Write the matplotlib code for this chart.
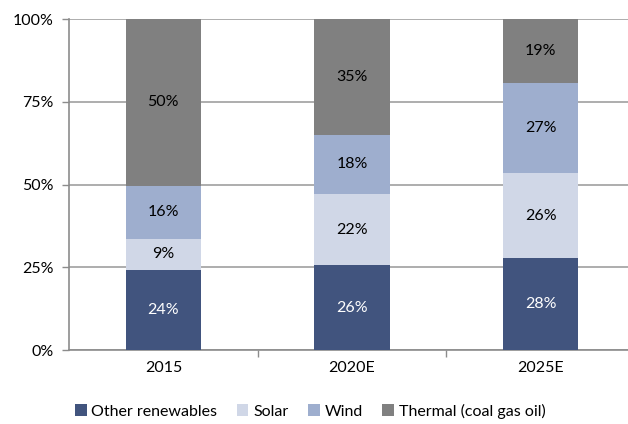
import matplotlib
matplotlib.use('Agg')
import matplotlib.pyplot as plt
import numpy as np

# values (percent of total)
years = ['2015', '2020E', '2025E']
other_renewables = [24.2, 25.6, 27.7]
solar = [9.4, 21.6, 25.9]
wind = [16.1, 17.8, 27.2]
thermal = [50.3, 35.0, 19.2]

series_names = ['Other renewables', 'Solar', 'Wind', 'Thermal (coal gas oil)']
series_colors = ['#41547e', '#d0d7e7', '#9eaece', '#808080']
label_colors = ['white', 'black', 'black', 'black']

plt.rcParams['font.family'] = ['Lato', 'DejaVu Sans']
fs = 11.5

fig = plt.figure(figsize=(6.28, 4.24), dpi=100)
ax = fig.add_axes([69 / 628, 1 - 350 / 424, 566 / 628, (350 - 19.3) / 424])

x = np.arange(len(years))
bottom = np.zeros(len(years))
for vals, name, col, lcol in zip([other_renewables, solar, wind, thermal],
                                 series_names, series_colors, label_colors):
    vals = np.array(vals)
    ax.bar(x, vals, 0.4, bottom=bottom, color=col, label=name, zorder=3)
    for xi, b, v in zip(x, bottom, vals):
        ax.text(xi, b + v / 2, '%d%%' % round(v), ha='center', va='center',
                color=lcol, fontsize=fs, zorder=4)
    bottom = bottom + vals

ax.set_xlim(-0.5, 2.5)
ax.set_ylim(0, 100)
ax.set_yticks([0, 25, 50, 75, 100])
ax.set_yticklabels(['0%', '25%', '50%', '75%', '100%'], fontsize=fs)
ax.set_xticks(x)
ax.set_xticklabels(years, fontsize=fs)
ax.set_xticks([0.5, 1.5], minor=True)
ax.tick_params(axis='x', which='major', length=0, pad=8)
ax.tick_params(axis='x', which='minor', length=5, color='#8c8c8c', width=1)
ax.tick_params(axis='y', length=5, color='#8c8c8c', width=1, pad=6)

ax.grid(axis='y', color='#a0a0a0', linewidth=1.2, zorder=0)
for s in ['top', 'right']:
    ax.spines[s].set_visible(False)
for s in ['left', 'bottom']:
    ax.spines[s].set_color('#8c8c8c')
    ax.spines[s].set_linewidth(1.2)

fig.legend(loc='center', bbox_to_anchor=(310 / 628, 1 - 411 / 424), ncol=4,
           frameon=False, fontsize=fs, handlelength=0.75, handleheight=0.75,
           handletextpad=0.3, columnspacing=1.2)

fig.savefig('out.png', dpi=100)
